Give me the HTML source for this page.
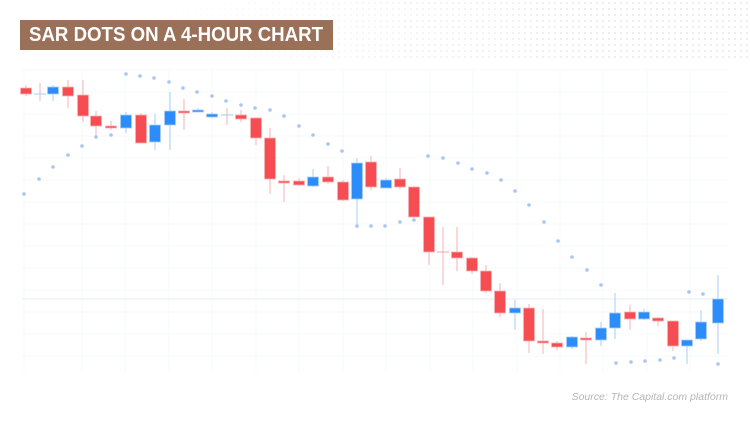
<!DOCTYPE html>
<html><head><meta charset="utf-8"><style>
html,body{margin:0;padding:0;background:#fff;}
body{width:750px;height:423px;position:relative;overflow:hidden;font-family:"Liberation Sans",sans-serif;}
.title{position:absolute;left:20px;top:20px;width:313px;height:30px;background:#9b7058;overflow:hidden;}
.title span{position:absolute;left:9px;top:0;color:#fff;font-weight:bold;font-size:20px;line-height:30px;white-space:nowrap;transform-origin:0 50%;}
.src{position:absolute;right:22px;top:391px;font-size:10.5px;font-style:italic;color:#b5b5b5;}
.dots{position:absolute;left:0;top:0;width:750px;height:60px;background-image:radial-gradient(#ececec 1px,transparent 1.3px);background-size:6px 6px;-webkit-mask-image:linear-gradient(to right,transparent 0%,transparent 20%,#000 80%);}
</style></head><body>
<div class="dots"></div>
<svg id="c" width="750" height="423" style="position:absolute;left:0;top:0"></svg>
<div class="title"><span id="t">SAR DOTS ON A 4-HOUR CHART</span></div>
<div class="src">Source: The Capital.com platform</div>
<script>
var t=document.getElementById('t');var w=t.getBoundingClientRect().width;t.style.transform='scaleX('+(294/w)+')';
var s='';
for(var y=70;y<372;y+=22)s+='<line x1="22" x2="728" y1="'+y+'" y2="'+y+'" stroke="#f7f8fa"/>';
[24,82,125,169,212,256,299,343,386,430,473,517,560,603,647,690].forEach(function(x){s+='<line x1="'+x+'" x2="'+x+'" y1="70" y2="372" stroke="#f7f8fa"/>';});
s+='<line x1="22" x2="728" y1="299" y2="299" stroke="#e6edf6"/>';
var C=[[26,'r',88,94,85,96],[40,'c',94,94,83,101],[53,'b',87,94,85,101],[68,'r',87,96,80,108],[83,'r',95,116,80,122],[96,'r',116,126,111,136],[111,'r',126,128,121,130],[126,'b',115,128,112,133],[141,'r',115,143,113,143],[155,'b',125,142,114,150],[170,'b',111,125,92,150],[184,'r',111,111,99,130],[198,'b',110,111,108,112],[212,'b',114,117,112,118],[227,'c',115,115,108,125],[241,'r',115,119,110,122],[256,'r',118,138,117,145],[270,'r',138,179,128,194],[284,'r',181,181,175,202],[299,'r',181,185,178,186],[313,'b',177,186,169,187],[328,'r',177,182,166,184],[343,'r',182,200,180,201],[357,'b',163,199,158,226],[371,'r',162,187,156,190],[386,'b',180,188,178,188],[400,'r',179,187,168,189],[414,'r',187,217,186,218],[429,'r',217,252,217,265],[443,'c',252,252,227,285],[457,'r',252,258,227,271],[472,'r',258,271,257,274],[486,'r',271,291,265,293],[500,'r',291,313,283,317],[515,'b',308,313,300,330],[529,'r',308,341,304,353],[543,'r',341,343,309,354],[557,'r',343,347,341,350],[572,'b',337,347,336,349],[586,'r',338,340,332,364],[601,'b',328,340,322,346],[615,'b',313,328,293,339],[630,'r',312,319,305,330],[644,'b',312,319,309,320],[658,'r',318,321,317,326],[673,'r',321,346,321,351],[687,'b',340,346,340,364],[701,'b',322,339,310,341],[718,'b',299,323,275,354]];
C.forEach(function(c){var x=c[0],col=c[1]=='b'?'#2b8cfa':'#f54d52',wk=c[1]=='b'?'#a9cdf6':'#f7b2b4';
s+='<line x1="'+x+'" x2="'+x+'" y1="'+c[4]+'" y2="'+c[5]+'" stroke="'+wk+'" stroke-width="1"/>';
var h=Math.max(c[3]-c[2],2);
if(c[1]=='c'){s+='<line x1="'+(x-6)+'" x2="'+(x+6)+'" y1="'+c[2]+'" y2="'+c[2]+'" stroke="'+(x==443?'#f7a0a3':'#a9cdf6')+'" stroke-width="1"/>';}
else s+='<rect x="'+(x-5.5)+'" y="'+c[2]+'" width="11" height="'+h+'" fill="'+col+'" stroke="'+wk+'" stroke-width="0.8"/>';});
var D=[[24,194],[39,179],[53,167],[68,155],[82,146],[96,137],[111,135],[126,74],[140,76],[154,78],[169,82],[183,88],[197,92],[212,96],[226,101],[241,105],[255,108],[270,110],[284,116],[299,126],[313,135],[328,144],[342,151],[357,226],[371,226],[385,226],[400,222],[414,220],[428,156],[443,158],[458,163],[472,169],[487,173],[501,180],[515,191],[529,205],[544,222],[558,241],[572,257],[587,270],[601,285],[616,363],[631,362],[645,361],[660,360],[674,358],[689,292],[703,294],[718,364]];
D.forEach(function(d){s+='<circle cx="'+d[0]+'" cy="'+d[1]+'" r="1.8" fill="#a8c6f2"/>';});
document.getElementById('c').innerHTML=s;
</script>
</body></html>
